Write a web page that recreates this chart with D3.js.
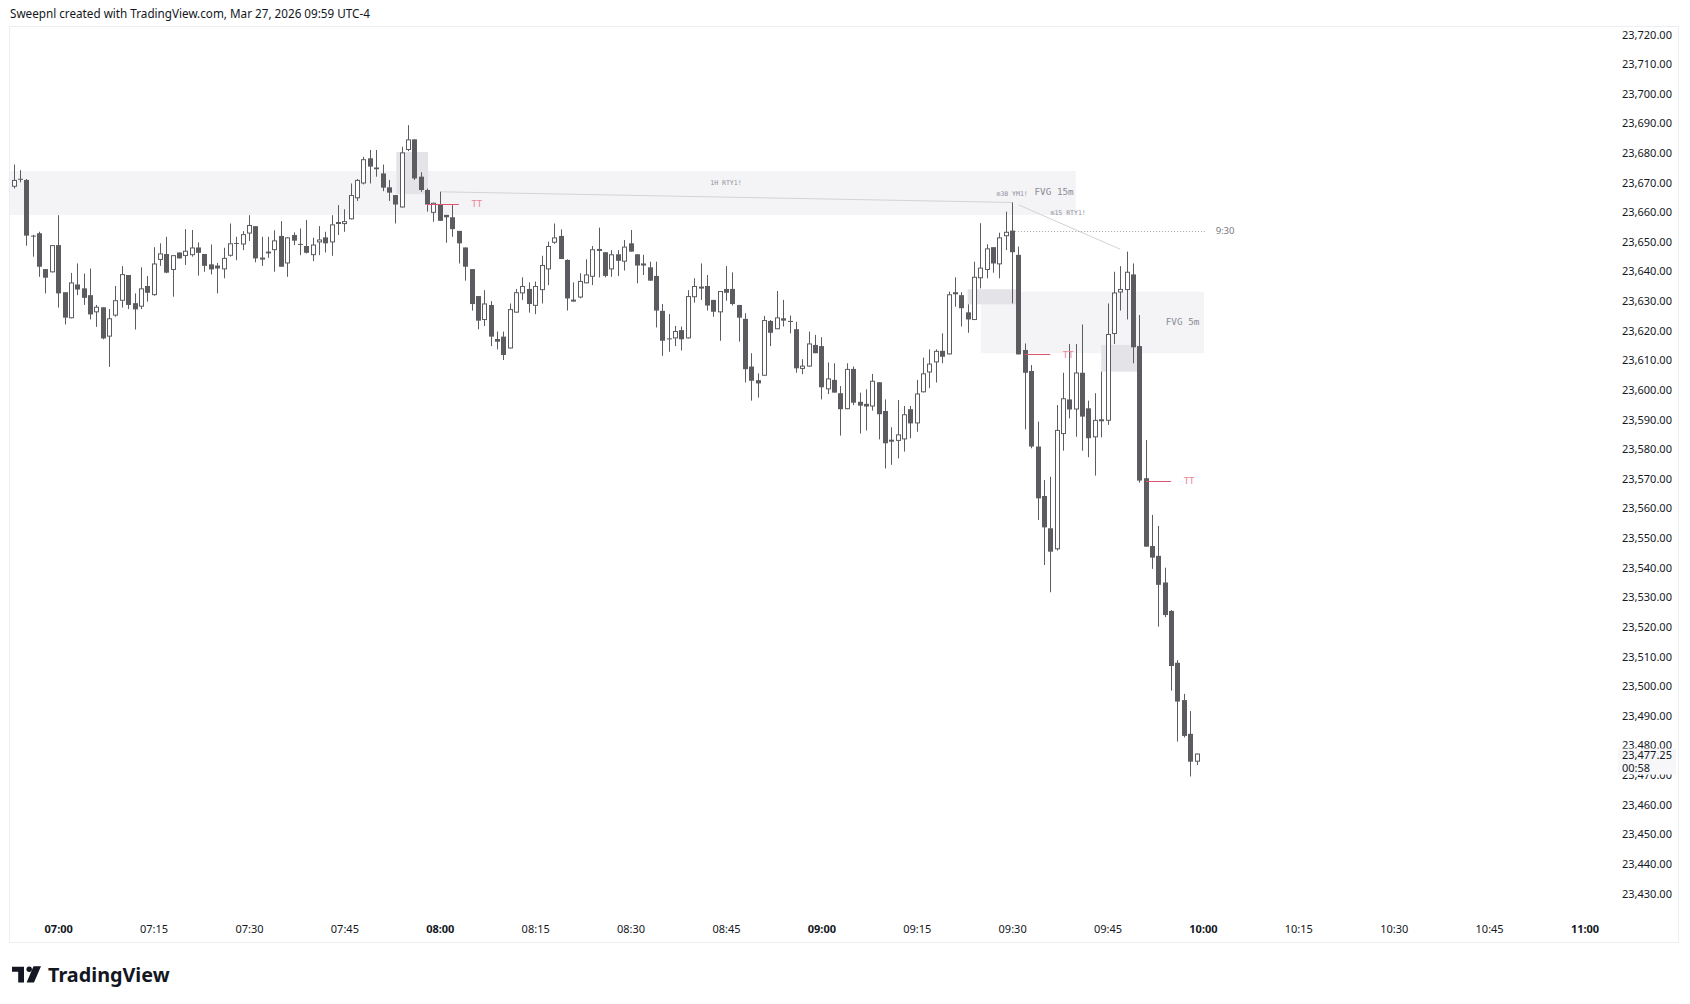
<!DOCTYPE html>
<html>
<head>
<meta charset="utf-8">
<script src="https://cdn.jsdelivr.net/npm/d3@7"></script>
<style>
html, body { margin: 0; padding: 0; background: #ffffff; }
svg { display: block; font-family: "Noto Sans", sans-serif; }
</style>
</head>
<body>
<div id="chart-container"></div>
<script>
// 1-minute bars: time, open, high, low, close
const candles = [
    ["06:53", 23668.6, 23676.1, 23668.0, 23670.9],
    ["06:54", 23671.3, 23674.2, 23670.1, 23671.0],
    ["06:55", 23670.9, 23671.2, 23648.7, 23652.1],
    ["06:56", 23652.1, 23652.4, 23645.0, 23652.0],
    ["06:57", 23652.9, 23653.4, 23638.2, 23641.6],
    ["06:58", 23640.8, 23640.8, 23632.6, 23637.9],
    ["06:59", 23639.7, 23648.9, 23639.7, 23648.9],
    ["07:00", 23648.9, 23659.0, 23627.8, 23632.6],
    ["07:01", 23633.0, 23633.0, 23622.1, 23624.4],
    ["07:02", 23624.2, 23639.5, 23624.2, 23636.3],
    ["07:03", 23635.6, 23642.7, 23632.0, 23633.9],
    ["07:04", 23634.3, 23639.3, 23628.7, 23631.1],
    ["07:05", 23632.0, 23641.0, 23623.8, 23625.5],
    ["07:06", 23626.2, 23628.7, 23621.3, 23628.1],
    ["07:07", 23627.9, 23627.9, 23617.1, 23617.4],
    ["07:08", 23618.0, 23627.3, 23607.8, 23624.2],
    ["07:09", 23625.1, 23635.1, 23624.7, 23630.3],
    ["07:10", 23630.1, 23641.8, 23627.8, 23639.1],
    ["07:11", 23638.8, 23638.8, 23627.3, 23628.7],
    ["07:12", 23629.3, 23632.6, 23620.4, 23627.2],
    ["07:13", 23628.1, 23641.4, 23627.3, 23634.3],
    ["07:14", 23635.1, 23638.5, 23629.8, 23632.8],
    ["07:15", 23632.0, 23648.2, 23631.8, 23642.7],
    ["07:16", 23643.9, 23649.5, 23641.9, 23646.1],
    ["07:17", 23645.9, 23651.7, 23639.4, 23639.6],
    ["07:18", 23640.5, 23645.5, 23631.5, 23645.5],
    ["07:19", 23646.4, 23646.4, 23644.4, 23644.4],
    ["07:20", 23645.2, 23654.3, 23642.2, 23647.0],
    ["07:21", 23645.5, 23654.0, 23645.0, 23648.1],
    ["07:22", 23648.1, 23649.8, 23638.6, 23646.3],
    ["07:23", 23645.9, 23645.9, 23639.9, 23641.9],
    ["07:24", 23642.4, 23649.1, 23639.0, 23640.7],
    ["07:25", 23642.0, 23642.9, 23632.6, 23641.0],
    ["07:26", 23640.7, 23648.0, 23637.7, 23644.6],
    ["07:27", 23645.3, 23656.2, 23645.0, 23649.5],
    ["07:28", 23649.6, 23651.7, 23643.8, 23649.4],
    ["07:29", 23649.1, 23653.6, 23647.2, 23652.6],
    ["07:30", 23652.8, 23659.0, 23650.3, 23655.7],
    ["07:31", 23655.3, 23655.3, 23643.1, 23644.4],
    ["07:32", 23644.0, 23651.7, 23641.9, 23644.7],
    ["07:33", 23646.7, 23651.7, 23644.6, 23646.1],
    ["07:34", 23647.2, 23653.9, 23639.9, 23650.5],
    ["07:35", 23652.0, 23657.0, 23641.6, 23641.6],
    ["07:36", 23642.7, 23651.5, 23638.2, 23651.5],
    ["07:37", 23652.3, 23653.2, 23648.9, 23650.4],
    ["07:38", 23649.3, 23654.5, 23645.5, 23649.2],
    ["07:39", 23648.6, 23657.4, 23646.1, 23646.3],
    ["07:40", 23645.5, 23651.4, 23643.5, 23649.1],
    ["07:41", 23649.8, 23655.3, 23645.5, 23650.8],
    ["07:42", 23651.5, 23653.4, 23646.4, 23649.5],
    ["07:43", 23649.8, 23659.0, 23645.3, 23655.9],
    ["07:44", 23656.5, 23662.4, 23652.3, 23656.7],
    ["07:45", 23656.0, 23661.0, 23653.4, 23657.0],
    ["07:46", 23657.6, 23669.7, 23657.6, 23665.8],
    ["07:47", 23664.7, 23671.2, 23663.8, 23670.9],
    ["07:48", 23669.7, 23678.7, 23669.4, 23677.9],
    ["07:49", 23678.2, 23681.0, 23669.7, 23675.4],
    ["07:50", 23675.1, 23681.0, 23672.0, 23674.5],
    ["07:51", 23673.1, 23676.1, 23667.1, 23668.3],
    ["07:52", 23668.4, 23670.9, 23663.8, 23666.6],
    ["07:53", 23665.8, 23665.8, 23656.2, 23662.6],
    ["07:54", 23661.6, 23682.1, 23661.6, 23680.2],
    ["07:55", 23681.0, 23689.4, 23680.6, 23684.6],
    ["07:56", 23684.6, 23684.6, 23670.9, 23671.4],
    ["07:57", 23672.0, 23673.5, 23666.9, 23667.5],
    ["07:58", 23667.5, 23668.0, 23660.2, 23662.6],
    ["07:59", 23659.8, 23663.2, 23656.8, 23663.2],
    ["08:00", 23662.7, 23666.9, 23657.1, 23657.1],
    ["08:01", 23659.1, 23659.1, 23649.7, 23658.3],
    ["08:02", 23658.3, 23662.4, 23651.7, 23654.3],
    ["08:03", 23653.7, 23653.7, 23642.7, 23649.5],
    ["08:04", 23648.1, 23648.1, 23636.9, 23641.6],
    ["08:05", 23640.8, 23640.8, 23626.8, 23629.0],
    ["08:06", 23631.7, 23631.7, 23620.5, 23623.4],
    ["08:07", 23623.6, 23633.7, 23621.6, 23629.2],
    ["08:08", 23628.7, 23630.0, 23614.8, 23618.0],
    ["08:09", 23617.2, 23619.7, 23613.7, 23616.3],
    ["08:10", 23618.0, 23619.7, 23610.1, 23611.8],
    ["08:11", 23614.0, 23629.2, 23614.0, 23627.3],
    ["08:12", 23626.1, 23634.1, 23626.1, 23633.0],
    ["08:13", 23632.6, 23638.0, 23630.4, 23635.1],
    ["08:14", 23634.1, 23636.3, 23626.1, 23629.0],
    ["08:15", 23628.4, 23636.6, 23625.6, 23635.1],
    ["08:16", 23633.7, 23645.3, 23629.2, 23642.2],
    ["08:17", 23640.7, 23650.1, 23635.4, 23648.6],
    ["08:18", 23649.7, 23656.2, 23649.3, 23651.5],
    ["08:19", 23652.0, 23654.2, 23644.2, 23644.2],
    ["08:20", 23643.9, 23644.1, 23626.8, 23630.9],
    ["08:21", 23630.2, 23636.3, 23629.8, 23630.5],
    ["08:22", 23631.2, 23639.4, 23630.9, 23636.8],
    ["08:23", 23636.0, 23644.1, 23636.0, 23639.0],
    ["08:24", 23638.2, 23648.6, 23635.4, 23647.5],
    ["08:25", 23647.5, 23654.8, 23638.0, 23647.6],
    ["08:26", 23646.5, 23646.5, 23638.0, 23638.5],
    ["08:27", 23640.7, 23647.2, 23638.2, 23645.8],
    ["08:28", 23645.8, 23647.2, 23638.5, 23643.6],
    ["08:29", 23643.3, 23650.6, 23640.3, 23648.4],
    ["08:30", 23649.5, 23654.0, 23646.7, 23646.7],
    ["08:31", 23645.8, 23645.8, 23636.0, 23642.0],
    ["08:32", 23642.7, 23645.6, 23638.8, 23642.0],
    ["08:33", 23641.4, 23643.3, 23636.9, 23636.9],
    ["08:34", 23638.5, 23643.3, 23621.1, 23626.8],
    ["08:35", 23626.7, 23629.0, 23611.5, 23616.6],
    ["08:36", 23617.4, 23625.6, 23612.9, 23617.3],
    ["08:37", 23617.4, 23621.6, 23614.8, 23619.9],
    ["08:38", 23620.2, 23621.4, 23613.3, 23617.1],
    ["08:39", 23617.4, 23633.7, 23617.4, 23631.7],
    ["08:40", 23631.3, 23637.7, 23629.5, 23635.1],
    ["08:41", 23634.8, 23642.7, 23630.4, 23634.9],
    ["08:42", 23635.1, 23638.8, 23626.8, 23628.5],
    ["08:43", 23630.4, 23630.4, 23624.7, 23626.4],
    ["08:44", 23626.2, 23633.4, 23616.6, 23633.4],
    ["08:45", 23634.1, 23641.8, 23630.1, 23632.8],
    ["08:46", 23634.1, 23639.7, 23628.5, 23629.0],
    ["08:47", 23628.7, 23628.7, 23616.3, 23624.4],
    ["08:48", 23624.0, 23625.9, 23602.5, 23607.0],
    ["08:49", 23607.9, 23612.4, 23596.4, 23603.1],
    ["08:50", 23603.3, 23605.6, 23597.4, 23602.2],
    ["08:51", 23604.8, 23625.0, 23604.8, 23623.6],
    ["08:52", 23623.3, 23623.6, 23614.8, 23619.3],
    ["08:53", 23620.5, 23633.4, 23620.5, 23624.5],
    ["08:54", 23624.2, 23630.4, 23621.4, 23623.4],
    ["08:55", 23623.3, 23625.1, 23619.1, 23623.2],
    ["08:56", 23620.5, 23623.0, 23605.8, 23607.3],
    ["08:57", 23607.1, 23610.4, 23605.3, 23608.2],
    ["08:58", 23607.9, 23619.7, 23607.9, 23615.7],
    ["08:59", 23615.2, 23618.6, 23612.4, 23612.4],
    ["09:00", 23614.8, 23617.8, 23596.8, 23600.9],
    ["09:01", 23600.2, 23609.3, 23598.6, 23603.9],
    ["09:02", 23603.4, 23609.0, 23599.1, 23599.1],
    ["09:03", 23598.9, 23601.3, 23584.6, 23593.5],
    ["09:04", 23593.5, 23609.0, 23593.5, 23607.1],
    ["09:05", 23607.1, 23607.9, 23594.9, 23595.7],
    ["09:06", 23596.0, 23599.1, 23585.3, 23594.7],
    ["09:07", 23595.3, 23600.2, 23586.3, 23594.4],
    ["09:08", 23594.4, 23605.4, 23593.0, 23603.1],
    ["09:09", 23602.6, 23602.6, 23583.3, 23591.8],
    ["09:10", 23592.9, 23596.8, 23573.5, 23582.0],
    ["09:11", 23583.1, 23587.4, 23574.7, 23583.2],
    ["09:12", 23582.8, 23596.6, 23576.9, 23585.0],
    ["09:13", 23583.3, 23594.6, 23579.2, 23591.8],
    ["09:14", 23593.5, 23594.6, 23583.7, 23588.7],
    ["09:15", 23588.7, 23603.4, 23585.9, 23598.8],
    ["09:16", 23599.2, 23610.9, 23599.2, 23605.6],
    ["09:17", 23605.9, 23613.7, 23600.6, 23608.9],
    ["09:18", 23609.3, 23613.7, 23602.5, 23613.2],
    ["09:19", 23613.2, 23619.1, 23609.0, 23611.2],
    ["09:20", 23612.0, 23633.2, 23612.0, 23632.3],
    ["09:21", 23633.0, 23638.0, 23628.1, 23632.3],
    ["09:22", 23632.0, 23633.0, 23621.4, 23627.6],
    ["09:23", 23626.2, 23628.9, 23619.3, 23623.8],
    ["09:24", 23623.6, 23643.3, 23623.6, 23638.2],
    ["09:25", 23637.7, 23656.3, 23634.3, 23641.3],
    ["09:26", 23640.5, 23649.2, 23637.7, 23647.8],
    ["09:27", 23648.2, 23648.2, 23639.6, 23642.7],
    ["09:28", 23642.4, 23653.1, 23637.7, 23651.5],
    ["09:29", 23651.9, 23660.2, 23647.2, 23653.4],
    ["09:30", 23653.8, 23663.3, 23629.2, 23646.5],
    ["09:31", 23645.6, 23648.4, 23612.0, 23612.0],
    ["09:32", 23613.5, 23615.7, 23586.7, 23605.8],
    ["09:33", 23606.4, 23608.4, 23580.3, 23580.9],
    ["09:34", 23580.9, 23589.3, 23556.1, 23563.4],
    ["09:35", 23564.2, 23569.6, 23540.9, 23553.6],
    ["09:36", 23553.3, 23570.7, 23531.7, 23545.4],
    ["09:37", 23546.2, 23594.9, 23545.8, 23586.5],
    ["09:38", 23585.1, 23605.8, 23579.5, 23597.2],
    ["09:39", 23596.8, 23615.5, 23590.4, 23593.4],
    ["09:40", 23593.4, 23615.5, 23584.2, 23605.9],
    ["09:41", 23605.8, 23622.1, 23579.5, 23591.0],
    ["09:42", 23593.8, 23596.4, 23577.3, 23583.7],
    ["09:43", 23584.0, 23598.9, 23571.1, 23589.9],
    ["09:44", 23589.9, 23606.2, 23584.0, 23590.1],
    ["09:45", 23589.6, 23629.2, 23588.2, 23618.9],
    ["09:46", 23618.9, 23639.9, 23615.5, 23632.9],
    ["09:47", 23632.9, 23641.8, 23626.8, 23634.1],
    ["09:48", 23633.7, 23646.7, 23623.8, 23639.9],
    ["09:49", 23639.0, 23642.7, 23609.0, 23614.4],
    ["09:50", 23614.8, 23625.3, 23568.7, 23569.4],
    ["09:51", 23570.2, 23583.1, 23547.1, 23547.1],
    ["09:52", 23547.3, 23557.8, 23539.6, 23543.4],
    ["09:53", 23544.0, 23554.1, 23520.1, 23534.2],
    ["09:54", 23535.0, 23540.0, 23523.3, 23524.0],
    ["09:55", 23525.4, 23525.7, 23498.5, 23506.8],
    ["09:56", 23507.9, 23508.8, 23481.3, 23494.8],
    ["09:57", 23495.3, 23497.4, 23482.7, 23483.2],
    ["09:58", 23483.9, 23491.6, 23469.5, 23474.5],
    ["09:59", 23474.5, 23477.25, 23473.4, 23477.25]
];

const priceTicks = [23720, 23710, 23700, 23690, 23680, 23670, 23660, 23650, 23640, 23630,
    23620, 23610, 23600, 23590, 23580, 23570, 23560, 23550, 23540, 23530,
    23520, 23510, 23500, 23490, 23480, 23470, 23460, 23450, 23440, 23430];
const timeTicks = ["07:00", "07:15", "07:30", "07:45", "08:00", "08:15", "08:30", "08:45",
    "09:00", "09:15", "09:30", "09:45", "10:00", "10:15", "10:30", "10:45", "11:00"];
const timeDomain = ["07:00", "11:00"];
const priceDomain = [23430, 23720];

const lastPrice = 23477.25;
const barCountdown = "00:58";
const headerText = "Sweepnl created with TradingView.com, Mar 27, 2026 09:59 UTC-4";

// shaded zones: start, end, top price, bottom price
const bandZones = [
    ["06:52", "09:40", 23673.9, 23659.1],
    ["09:25:05", "10:00:10", 23633.2, 23612.4]
];
const gapBoxes = [
    ["07:53:10", "07:58:10", 23680.3, 23666.1],
    ["09:23", "09:30:40", 23634.0, 23628.9],
    ["09:44", "09:49:50", 23615.2, 23606.2]
];
// SMT lines: start time, start price, end time, end price
const smtLines = [
    ["08:00", 23666.9, "09:30", 23663.3],
    ["09:31", 23662.5, "09:47", 23647.5]
];
const openLine = ["09:30", "10:00:20", 23653.8];
const openLabel = ["10:02", 23653.8, "9:30"];
const smtTags = [
    ["08:45", 23669.9, "1H RTY1!"],
    ["09:30", 23666.2, "m30 YM1!"],
    ["09:38:48", 23659.7, "m15 RTY1!"]
];
const fvgTags = [
    ["09:36:36", 23666.8, "FVG 15m"],
    ["09:56:48", 23622.9, "FVG 5m"]
];
// TT marks: line start, line end, price
const ttMarks = [
    ["07:58", "08:03", 23662.8],
    ["09:32", "09:36", 23612.0],
    ["09:51", "09:55", 23569.4]
];

const width = 1690;
const height = 1004;
const candleColor = '#5b5b60';
const textColor = '#131722';

const parseMin = d3.timeParse('%H:%M');
const parseSec = d3.timeParse('%H:%M:%S');
const parseT = s => s.length > 5 ? parseSec(s) : parseMin(s);

const x = d3.scaleTime()
    .domain(timeDomain.map(parseT))
    .range([58.2, 1584.5]);
const y = d3.scaleLinear()
    .domain(priceDomain)
    .range([893.5, 34.5]);

const svg = d3.select('#chart-container')
    .append('svg')
    .attr('width', width)
    .attr('height', height)
    .attr('viewBox', '0 0 ' + width + ' ' + height);

svg.append('rect').attr('width', width).attr('height', height).attr('fill', '#ffffff');

// header
svg.append('text')
    .attr('x', 10)
    .attr('y', 14)
    .attr('dy', '0.35em')
    .attr('font-size', '11.7px')
    .attr('fill', textColor)
    .text(headerText);

// frame
svg.append('rect')
    .attr('x', 9.5).attr('y', 26.5)
    .attr('width', 1669).attr('height', 916)
    .attr('fill', 'none')
    .attr('stroke', '#eceef2');

svg.append('defs').append('clipPath').attr('id', 'pane')
    .append('rect').attr('x', 10).attr('y', 27).attr('width', 1600).attr('height', 880);

const pane = svg.append('g').attr('clip-path', 'url(#pane)');

// zones
pane.selectAll('.band')
    .data(bandZones)
    .enter()
    .append('rect')
    .attr('class', 'band')
    .attr('x', d => x(parseT(d[0])))
    .attr('y', d => y(d[2]))
    .attr('width', d => x(parseT(d[1])) - x(parseT(d[0])))
    .attr('height', d => y(d[3]) - y(d[2]))
    .attr('fill', '#f4f3f6');

pane.selectAll('.gap')
    .data(gapBoxes)
    .enter()
    .append('rect')
    .attr('class', 'gap')
    .attr('x', d => x(parseT(d[0])))
    .attr('y', d => y(d[2]))
    .attr('width', d => x(parseT(d[1])) - x(parseT(d[0])))
    .attr('height', d => y(d[3]) - y(d[2]))
    .attr('fill', '#e4e3e7');

pane.selectAll('.smt')
    .data(smtLines)
    .enter()
    .append('line')
    .attr('class', 'smt')
    .attr('x1', d => x(parseT(d[0])))
    .attr('y1', d => y(d[1]))
    .attr('x2', d => x(parseT(d[2])))
    .attr('y2', d => y(d[3]))
    .attr('stroke', '#d3d3d8')
    .attr('stroke-width', 1);

pane.append('line')
    .attr('x1', x(parseT(openLine[0])))
    .attr('x2', x(parseT(openLine[1])))
    .attr('y1', Math.round(y(openLine[2])) + 0.5)
    .attr('y2', Math.round(y(openLine[2])) + 0.5)
    .attr('stroke', '#a3a6ae')
    .attr('stroke-dasharray', '1,2');

// candles
const bars = pane.selectAll('.bar')
    .data(candles)
    .enter()
    .append('g')
    .attr('class', 'bar');

bars.append('line')
    .attr('x1', d => Math.round(x(parseT(d[0]))) + 0.5)
    .attr('x2', d => Math.round(x(parseT(d[0]))) + 0.5)
    .attr('y1', d => y(d[2]))
    .attr('y2', d => y(d[3]))
    .attr('stroke', candleColor)
    .attr('stroke-width', 1);

bars.append('rect')
    .attr('x', d => Math.round(x(parseT(d[0]))) - (d[4] >= d[1] ? 1.5 : 2))
    .attr('width', d => d[4] >= d[1] ? 4 : 5)
    .attr('y', d => y(Math.max(d[1], d[4])) + (d[4] >= d[1] ? 0.5 : 0))
    .attr('height', d => Math.max(1, Math.abs(y(d[1]) - y(d[4])) - (d[4] >= d[1] ? 1 : 0)))
    .attr('fill', d => d[4] >= d[1] ? '#ffffff' : candleColor)
    .attr('stroke', d => d[4] >= d[1] ? candleColor : 'none')
    .attr('stroke-width', 1);

// annotation text
pane.selectAll('.smt-tag')
    .data(smtTags)
    .enter()
    .append('text')
    .attr('class', 'smt-tag')
    .attr('x', d => x(parseT(d[0])))
    .attr('y', d => y(d[1]))
    .attr('dy', '0.35em')
    .attr('text-anchor', 'middle')
    .attr('font-family', '"DejaVu Sans Mono", monospace')
    .attr('font-size', '6.5px')
    .attr('fill', '#8e9199')
    .text(d => d[2]);

pane.selectAll('.fvg-tag')
    .data(fvgTags)
    .enter()
    .append('text')
    .attr('class', 'fvg-tag')
    .attr('x', d => x(parseT(d[0])))
    .attr('y', d => y(d[1]))
    .attr('dy', '0.35em')
    .attr('text-anchor', 'middle')
    .attr('font-family', '"DejaVu Sans Mono", monospace')
    .attr('font-size', '9.3px')
    .attr('fill', '#8a8d95')
    .text(d => d[2]);

pane.append('text')
    .attr('x', x(parseT(openLabel[0])))
    .attr('y', y(openLabel[1]))
    .attr('dy', '0.35em')
    .attr('font-size', '9.5px')
    .attr('fill', '#787b86')
    .text(openLabel[2]);

const tt = pane.selectAll('.tt')
    .data(ttMarks)
    .enter()
    .append('g')
    .attr('class', 'tt');
tt.append('line')
    .attr('x1', d => x(parseT(d[0])))
    .attr('x2', d => x(parseT(d[1])))
    .attr('y1', d => Math.round(y(d[2])) + 0.5)
    .attr('y2', d => Math.round(y(d[2])) + 0.5)
    .attr('stroke', '#d9566e')
    .attr('stroke-width', 1);
tt.append('text')
    .attr('x', d => x(parseT(d[1])) + 18)
    .attr('y', d => y(d[2]))
    .attr('dy', '0.35em')
    .attr('text-anchor', 'middle')
    .attr('font-family', '"DejaVu Sans Mono", monospace')
    .attr('font-size', '9px')
    .attr('fill', '#e7899a')
    .text('TT');

// price axis
const yAxis = d3.axisRight(y)
    .tickValues(priceTicks)
    .tickFormat(d3.format(',.2f'))
    .tickSize(0)
    .tickPadding(0);
const yAxisG = svg.append('g')
    .attr('transform', 'translate(1622, 0)')
    .call(yAxis);
yAxisG.select('.domain').remove();
yAxisG.selectAll('text')
    .attr('font-family', '"Noto Sans", sans-serif')
    .attr('font-size', '11px')
    .attr('fill', textColor);

// last price label, drawn over the neighbouring axis labels as in the original
const lastY = y(lastPrice);
svg.append('rect')
    .attr('x', 1618)
    .attr('y', lastY - 5)
    .attr('width', 58)
    .attr('height', 26)
    .attr('fill', '#f7f7f9');
svg.append('text')
    .attr('x', 1622)
    .attr('y', lastY + 1.5)
    .attr('dy', '0.35em')
    .attr('font-size', '11px')
    .attr('fill', textColor)
    .text(d3.format(',.2f')(lastPrice));
svg.append('text')
    .attr('x', 1622)
    .attr('y', lastY + 14.5)
    .attr('dy', '0.35em')
    .attr('font-size', '11px')
    .attr('fill', textColor)
    .text(barCountdown);

// time axis
const xAxis = d3.axisBottom(x)
    .tickValues(timeTicks.map(parseT))
    .tickFormat(d3.timeFormat('%H:%M'))
    .tickSize(0)
    .tickPadding(0);
const xAxisG = svg.append('g')
    .attr('transform', 'translate(0, 929)')
    .call(xAxis);
xAxisG.select('.domain').remove();
xAxisG.selectAll('text')
    .attr('y', 0)
    .attr('dy', '0.35em')
    .attr('font-family', '"Noto Sans", sans-serif')
    .attr('font-size', '11px')
    .attr('fill', textColor)
    .attr('font-weight', d => d.getMinutes() === 0 ? 700 : 400);

// TradingView logo
const logo = svg.append('g').attr('transform', 'translate(12, 966)');
logo.append('path')
    .attr('d', 'M0,0.7 H12 V16.5 H6.2 V5.8 H0 Z')
    .attr('fill', '#131722');
logo.append('circle')
    .attr('cx', 17.2).attr('cy', 3.2).attr('r', 2.7)
    .attr('fill', '#131722');
logo.append('path')
    .attr('d', 'M21.5,0.2 H29 L22,16.5 H14.6 Z')
    .attr('fill', '#131722');
svg.append('text')
    .attr('x', 48)
    .attr('y', 975)
    .attr('dy', '0.35em')
    .attr('font-family', '"Noto Sans", sans-serif')
    .attr('font-weight', 700)
    .attr('font-size', '19.8px')
    .attr('fill', '#131722')
    .text('TradingView');
</script>
</body>
</html>
